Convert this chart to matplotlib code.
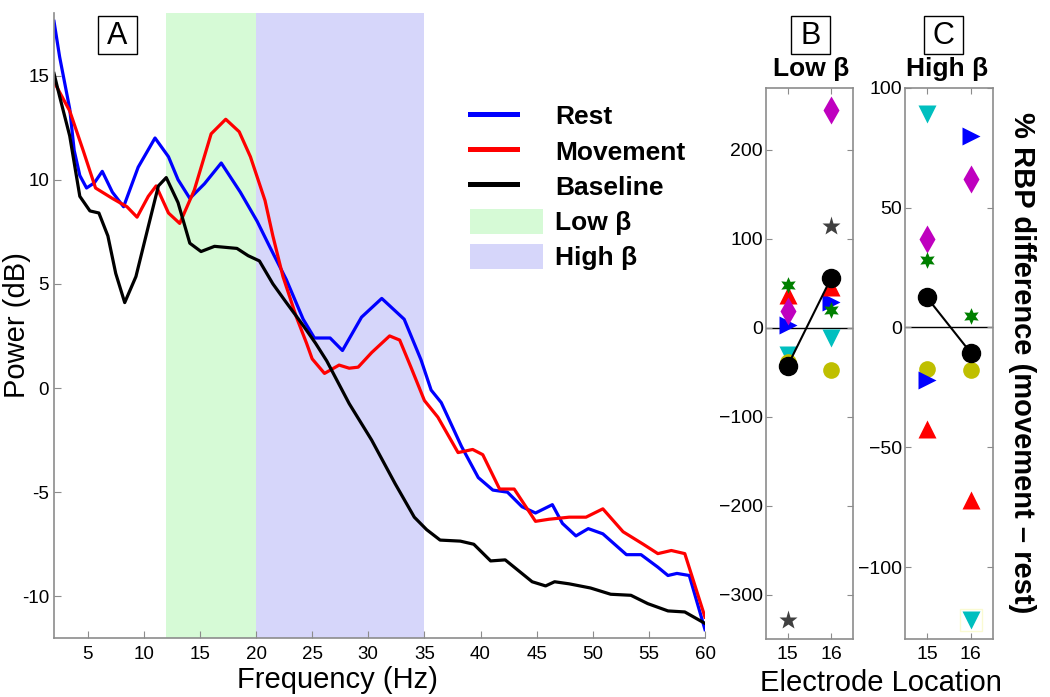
import numpy as np
import matplotlib
matplotlib.use('Agg')
import matplotlib.pyplot as plt
from matplotlib.lines import Line2D
from matplotlib.patches import Patch, Rectangle
from matplotlib.legend_handler import HandlerLine2D
from matplotlib.font_manager import FontProperties

plt.rcParams['font.family'] = ['Liberation Sans', 'DejaVu Sans']
plt.rcParams['axes.unicode_minus'] = False

# --- panel A: power spectra ---
rest_hz = [2.0, 2.5, 3.4, 3.8, 4.3, 4.9, 5.6, 6.3, 7.2, 8.2, 9.5, 11.0, 12.2, 13.05, 14.1,
           15.4, 16.9, 18.6, 20.1, 21.2, 22.7, 24.2, 25.2, 26.6, 27.7, 29.4, 31.2, 33.2,
           34.7, 35.6, 36.5, 38.3, 39.8, 41.1, 42.4, 43.7, 44.9, 46.4, 47.3, 48.5, 49.6,
           50.9, 53.0, 54.3, 55.8, 56.7, 57.5, 58.6, 60.0]
rest_db = [17.6, 15.9, 13.4, 11.4, 10.2, 9.6, 9.85, 10.4, 9.4, 8.7, 10.6, 12.0, 11.1, 10.0, 9.1,
           9.8, 10.8, 9.4, 8.0, 6.8, 5.2, 3.3, 2.4, 2.4, 1.8, 3.4, 4.3, 3.3,
           1.35, -0.1, -0.7, -2.8, -4.3, -4.9, -5.0, -5.7, -6.0, -5.6, -6.5, -7.1, -6.75,
           -7.0, -8.0, -8.0, -8.6, -9.0, -8.9, -9.0, -11.6]

move_hz = [2.0, 2.5, 3.4, 4.6, 5.7, 7.2, 8.5, 9.4, 10.4, 11.1, 12.2, 13.2, 14.5, 16.0, 17.3,
           18.5, 19.5, 20.8, 21.5, 22.4, 23.6, 24.5, 25.0, 26.1, 27.4, 28.3, 29.1, 30.3,
           31.9, 32.8, 33.8, 35.0, 36.2, 38.0, 39.3, 40.2, 41.7, 43.0, 44.9, 46.1, 47.9,
           49.4, 50.9, 52.7, 54.5, 55.8, 57.0, 58.2, 60.0]
move_db = [14.7, 14.2, 13.3, 11.4, 9.6, 9.1, 8.7, 8.2, 9.2, 9.7, 8.4, 7.9, 9.5, 12.2, 12.9,
           12.3, 11.1, 9.0, 7.3, 5.35, 3.4, 2.15, 1.4, 0.7, 1.1, 0.95, 1.0, 1.7,
           2.5, 2.3, 1.0, -0.6, -1.4, -3.1, -2.95, -3.2, -4.85, -4.85, -6.4, -6.3, -6.2,
           -6.2, -5.8, -6.9, -7.5, -7.95, -7.8, -7.95, -11.0]

base_hz = [2.0, 2.5, 3.4, 4.3, 5.2, 6.0, 6.8, 7.5, 8.3, 9.3, 10.4, 11.3, 12.0, 13.05, 14.1,
           15.1, 16.3, 18.3, 19.3, 20.3, 21.5, 22.7, 24.2, 25.3, 26.3, 28.3, 30.3, 32.4,
           34.1, 35.2, 36.4, 38.2, 39.4, 40.9, 42.2, 44.6, 45.8, 46.6, 47.9, 49.8, 51.6,
           53.4, 54.9, 56.7, 58.2, 60.0]
base_db = [15.1, 14.0, 12.1, 9.2, 8.5, 8.4, 7.3, 5.5, 4.1, 5.35, 7.75, 9.7, 10.1, 8.9, 6.95,
           6.55, 6.8, 6.7, 6.35, 6.1, 5.0, 4.1, 3.0, 2.15, 1.3, -0.75, -2.5, -4.6,
           -6.2, -6.8, -7.3, -7.35, -7.5, -8.3, -8.25, -9.3, -9.5, -9.3, -9.4, -9.6, -9.9,
           -9.95, -10.35, -10.7, -10.75, -11.3]

low_band = (12, 20)
high_band = (20, 35)

# --- panels B and C: % RBP difference per electrode ---
electrodes = [15, 16]

low_cyan = [-31, -11]
low_yellow = [-38, -48]
low_blue = [3, 29]
low_red = [37, 46]
low_magenta = [19, 245]
low_green = [48, 20]
low_gray = [-329, 114]
low_black = [-43, 56]

high_pale = [np.nan, -122]
high_cyan = [89, -122]
high_yellow = [-17.3, -17.6]
high_blue = [-22, 80]
high_red = [-42.5, -72]
high_magenta = [37, 62]
high_green = [28, 4.6]
high_black = [12.5, -10.6]

W, H = 1050, 697
fig = plt.figure(figsize=(10.5, 6.97), dpi=100)

bold = FontProperties(family=['Liberation Sans', 'DejaVu Sans'], weight='bold', size=19)
bold_ylab = FontProperties(family=['Liberation Sans', 'DejaVu Sans'], weight='bold', size=21)
gray = '#8c8c8c'

# ---------------- panel A ----------------
axA = fig.add_axes([54 / W, 1 - 638 / H, 651 / W, 625 / H])
axA.axvspan(*low_band, color='#d6fad6', lw=0)
axA.axvspan(*high_band, color='#d6d6fa', lw=0)
axA.plot(rest_hz, rest_db, color='#0000ff', lw=2.3, solid_joinstyle='round')
axA.plot(move_hz, move_db, color='#ff0000', lw=2.3, solid_joinstyle='round')
axA.plot(base_hz, base_db, color='black', lw=2.3, solid_joinstyle='round')
axA.set_xlim(2, 60)
axA.set_ylim(-12, 18)
axA.set_xticks(range(5, 61, 5))
axA.set_yticks([-10, -5, 0, 5, 10, 15])
axA.set_yticklabels([str(v) for v in [-10, -5, 0, 5, 10, 15]])
axA.spines['top'].set_visible(False)
axA.spines['right'].set_visible(False)
for s in ('left', 'bottom'):
    axA.spines[s].set_color(gray)
    axA.spines[s].set_linewidth(1.2)
axA.tick_params(direction='in', color=gray, length=5, labelsize=13.5)
axA.tick_params(axis='x', pad=6)
axA.set_xlabel('Frequency (Hz)', fontsize=21)
axA.xaxis.set_label_coords(0.435, -0.045)
axA.set_ylabel('Power (dB)', fontsize=21)
axA.yaxis.set_label_coords(-0.035, 0.5)


class ShortLine(HandlerLine2D):
    def get_xdata(self, legend, xdescent, ydescent, width, height, fontsize):
        x = np.array([-xdescent, -xdescent + 0.64 * width])
        return x, x


handles = [Line2D([], [], color='#0000ff', lw=3.6),
           Line2D([], [], color='#ff0000', lw=3.6),
           Line2D([], [], color='black', lw=3.6),
           Patch(facecolor='#d6fad6', edgecolor='none'),
           Patch(facecolor='#d6d6fa', edgecolor='none')]
labels = ['Rest', 'Movement', 'Baseline', 'Low β', 'High β']
axA.legend(handles, labels, loc='upper left', bbox_to_anchor=((470 - 54) / 651, (638 - 103) / 625),
           frameon=False, prop=bold, borderpad=0, borderaxespad=0, handlelength=2.77,
           handleheight=1.06, handletextpad=0.45, labelspacing=0.34,
           handler_map={Line2D: ShortLine()})

# ---------------- panels B and C ----------------
def style_panel(ax, ylim, yticks):
    ax.set_xlim(14.5, 16.5)
    ax.set_ylim(*ylim)
    ax.set_xticks(electrodes)
    ax.set_xticklabels([str(e) for e in electrodes])
    ax.set_yticks(yticks)
    ax.set_yticklabels([str(v).replace('-', '\u2212') for v in yticks])
    for s in ax.spines.values():
        s.set_color(gray)
        s.set_linewidth(1.2)
    ax.tick_params(direction='in', top=True, right=True, color=gray, length=4.5, labelsize=14)
    ax.tick_params(axis='y', pad=2)
    ax.tick_params(axis='x', pad=5)
    ax.axhline(0, color='black', lw=1, zorder=1)


axB = fig.add_axes([765.7 / W, 1 - 639 / H, 87.3 / W, 551.3 / H])
axB.plot(electrodes, low_cyan, 'v', color='c', ms=13, mec='none')
axB.plot(electrodes, low_yellow, 'o', color='y', ms=12, mec='none')
axB.plot(electrodes, low_blue, '>', color='#0000ff', ms=13, mec='none')
axB.plot(electrodes, low_red, '^', color='#ff0000', ms=13, mec='none')
axB.plot(electrodes, low_magenta, 'd', color='m', ms=14, mec='none')
axB.plot(electrodes, low_green, marker=(6, 1, 0), ls='none', color='green', ms=12, mec='none')
axB.plot(electrodes, low_gray, '*', color='#404040', ms=14, mec='none')
axB.plot(electrodes, low_black, '-o', color='black', lw=1.5, ms=13)
style_panel(axB, (-350, 270), [-300, -200, -100, 0, 100, 200])

axC = fig.add_axes([905 / W, 1 - 639 / H, 87.7 / W, 551.3 / H])
axC.plot(electrodes, high_pale, 's', mfc='none', mec='#fafad2', ms=16)
axC.plot(electrodes, high_cyan, 'v', color='c', ms=13, mec='none')
axC.plot(electrodes, high_yellow, 'o', color='y', ms=12, mec='none')
axC.plot(electrodes, high_blue, '>', color='#0000ff', ms=13, mec='none')
axC.plot(electrodes, high_red, '^', color='#ff0000', ms=13, mec='none')
axC.plot(electrodes, high_magenta, 'd', color='m', ms=14, mec='none')
axC.plot(electrodes, high_green, marker=(6, 1, 0), ls='none', color='green', ms=12, mec='none')
axC.plot(electrodes, high_black, '-o', color='black', lw=1.5, ms=13)
style_panel(axC, (-130, 100), [-100, -50, 0, 50, 100])

# panel letters with boxes
for letter, cx in (('A', 117), ('B', 810.5), ('C', 943.7)):
    fig.text(cx / W, 1 - 36 / H, letter, ha='center', va='center', fontsize=22)
    fig.add_artist(Rectangle(((cx - 19.5) / W, 1 - 54 / H), 39 / W, 38 / H,
                             transform=fig.transFigure, fill=False, ec='black', lw=1))

fig.text(811 / W, 1 - 69 / H, 'Low β', ha='center', va='center', fontproperties=bold)
fig.text(946.7 / W, 1 - 69 / H, 'High β', ha='center', va='center', fontproperties=bold)
fig.text(1022 / W, 1 - 363 / H, '% RBP difference (movement \u2013 rest)', rotation=270,
         ha='center', va='center', fontproperties=bold_ylab)
fig.text(881 / W, 1 - 669 / H, 'Electrode Location', ha='center', va='top', fontsize=21)

fig.savefig('out.png', dpi=100)
